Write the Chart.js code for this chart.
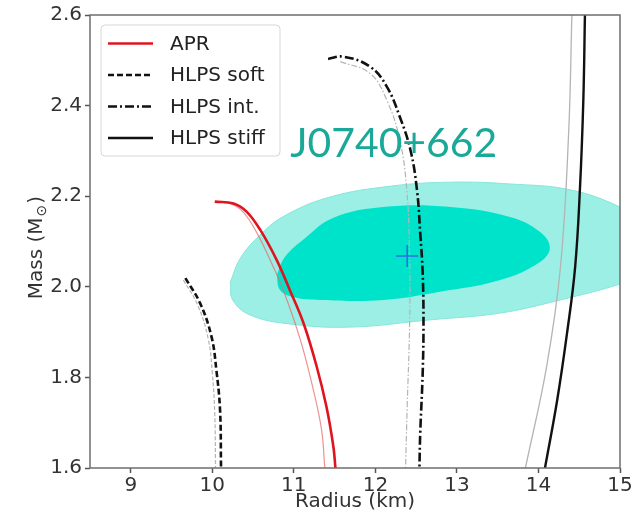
<!DOCTYPE html>
<html>
<head>
<meta charset="utf-8">
<script src="https://cdn.jsdelivr.net/npm/chart.js@4.4.0/dist/chart.umd.min.js"></script>
<style>html,body{margin:0;padding:0;background:#fff}</style>
</head>
<body>
<canvas id="c" width="638" height="518"></canvas>
<script>
// ── mass–radius curves (R in km, M in solar masses) ──────────
const APR_R        = [10.03, 10.26, 10.42, 10.59, 10.79, 10.95, 11.12, 11.28, 11.40, 11.485, 11.51];
const APR_M        = [2.188, 2.184, 2.166, 2.125, 2.059, 1.993, 1.919, 1.824, 1.735, 1.647, 1.600];
const APR_FAINT_R  = [10.06, 10.22, 10.38, 10.55, 10.72, 10.87, 11.08, 11.24, 11.34, 11.38];
const APR_FAINT_M  = [2.188, 2.184, 2.165, 2.118, 2.055, 1.993, 1.883, 1.772, 1.684, 1.600];

const SOFT_R       = [9.67, 9.85, 9.99, 10.05, 10.095, 10.107];
const SOFT_M       = [2.019, 1.964, 1.890, 1.816, 1.728, 1.600];
const SOFT_FAINT_R = [9.645, 9.82, 9.95, 10.00, 10.03, 10.04];
const SOFT_FAINT_M = [2.015, 1.960, 1.885, 1.810, 1.720, 1.600];

const INT_R        = [11.42, 11.61, 11.935, 12.14, 12.30, 12.43, 12.51, 12.55, 12.58, 12.59, 12.58, 12.55, 12.54];
const INT_M        = [2.503, 2.508, 2.486, 2.442, 2.375, 2.302, 2.214, 2.118, 2.030, 1.919, 1.809, 1.677, 1.600];
const INT_FAINT_R  = [11.57, 11.935, 12.14, 12.30, 12.385, 12.42, 12.42, 12.39, 12.37];
const INT_FAINT_M  = [2.497, 2.471, 2.412, 2.324, 2.214, 2.066, 1.919, 1.735, 1.600];

const STIFF_R       = [14.57, 14.55, 14.51, 14.45, 14.35, 14.23, 14.08];
const STIFF_M       = [2.600, 2.410, 2.221, 2.044, 1.897, 1.750, 1.600];
const STIFF_FAINT_R = [14.41, 14.37, 14.27, 14.10, 13.84];
const STIFF_FAINT_M = [2.600, 2.339, 2.044, 1.824, 1.600];

// ── J0740+6620 credible regions (closed contours) ─────────────
const OUTER_R = [10.22, 10.34, 10.56, 10.87, 11.44, 12.18, 12.92, 13.65, 14.39, 15.00, 15.45, 15.45, 15.00, 14.27, 13.53, 12.67, 11.69, 10.95, 10.46, 10.25, 10.22];
const OUTER_M = [2.010, 2.062, 2.110, 2.155, 2.198, 2.222, 2.231, 2.227, 2.214, 2.176, 2.125, 2.037, 2.006, 1.971, 1.942, 1.927, 1.911, 1.918, 1.938, 1.971, 2.010];
const INNER_R = [10.79, 10.89, 11.14, 11.48, 12.10, 12.92, 13.65, 14.02, 14.14, 14.02, 13.53, 12.79, 12.10, 11.32, 11.00, 10.83, 10.79];
const INNER_M = [2.026, 2.066, 2.108, 2.152, 2.176, 2.176, 2.154, 2.121, 2.086, 2.055, 2.015, 1.989, 1.971, 1.971, 1.977, 1.993, 2.026];

const CROSS_R = [12.39];
const CROSS_M = [2.068];

const X_TICKS = [9, 10, 11, 12, 13, 14, 15];
const Y_TICKS = [1.6, 1.8, 2.0, 2.2, 2.4, 2.6];

const LABEL_TEXT = 'J0740+662';
const LABEL_R = 12.225, LABEL_M = 2.287;   // text centre / baseline

const LEGEND = [
    { text: 'APR',        color: '#e0141e', dash: [] },
    { text: 'HLPS soft',  color: '#111',    dash: [6, 3] },
    { text: 'HLPS int.',  color: '#111',    dash: [9, 3, 2, 3] },
    { text: 'HLPS stiff', color: '#111',    dash: [] }
];

const pts = (R, M) => R.map((r, i) => ({ x: r, y: M[i] }));
const FONT = "'DejaVu Sans', sans-serif";

function curve(R, M, color, width, dash, order) {
    return {
        data: pts(R, M), showLine: true, borderColor: color, borderWidth: width,
        borderDash: dash, pointRadius: 0, tension: 0.4, fill: false, order
    };
}

const datasets = [
    { data: pts(CROSS_R, CROSS_M), pointStyle: 'cross', pointRadius: 11, borderColor: '#2a6fe0',
      borderWidth: 1.6, showLine: false, order: 0 },
    curve(APR_R, APR_M, '#e0141e', 2.6, [], 1),
    curve(SOFT_R, SOFT_M, '#111', 2.6, [6, 3], 1),
    curve(INT_R, INT_M, '#111', 2.6, [9, 3, 2, 3], 1),
    curve(STIFF_R, STIFF_M, '#111', 2.4, [], 1),
    curve(APR_FAINT_R, APR_FAINT_M, 'rgba(232,110,110,0.75)', 1.2, [], 2),
    curve(SOFT_FAINT_R, SOFT_FAINT_M, '#b4b4b4', 1.2, [4, 2], 2),
    curve(INT_FAINT_R, INT_FAINT_M, '#b4b4b4', 1.2, [6, 2, 1.5, 2], 2),
    curve(STIFF_FAINT_R, STIFF_FAINT_M, '#b4b4b4', 1.3, [], 2),
    { data: pts(INNER_R, INNER_M), showLine: true, fill: 'shape', backgroundColor: '#00e3cb',
      borderColor: '#00e3cb', borderWidth: 0, pointRadius: 0, tension: 0.4, order: 3 },
    { data: pts(OUTER_R, OUTER_M), showLine: true, fill: 'shape', backgroundColor: '#9cefe5',
      borderColor: '#86e6da', borderWidth: 1, pointRadius: 0, tension: 0.4, order: 4 }
];

const decor = {
    id: 'decor',
    beforeDatasetsDraw(chart) {
        const { ctx, chartArea: a } = chart;
        ctx.save();
        ctx.beginPath();
        ctx.rect(a.left, a.top, a.right - a.left, a.bottom - a.top);
        ctx.clip();
    },
    afterDatasetsDraw(chart) {
        chart.ctx.restore();
    },
    afterDraw(chart) {
        const { ctx, chartArea: a, scales: { x, y } } = chart;
        ctx.save();

        // frame
        ctx.strokeStyle = '#6e6e6e';
        ctx.lineWidth = 1.5;
        ctx.strokeRect(a.left, a.top, a.right - a.left, a.bottom - a.top);

        // J0740 label
        let size = 44;
        ctx.font = `${size}px Lato, 'Open Sans', sans-serif`;
        size = size * 207 / ctx.measureText(LABEL_TEXT).width;
        ctx.font = `${size.toFixed(1)}px Lato, 'Open Sans', sans-serif`;
        ctx.fillStyle = '#1aa898';
        ctx.textAlign = 'center';
        ctx.textBaseline = 'alphabetic';
        ctx.fillText(LABEL_TEXT, x.getPixelForValue(LABEL_R), y.getPixelForValue(LABEL_M));

        // legend
        const lx = 101, ly = 25, lw = 179, lh = 131;
        ctx.beginPath();
        ctx.roundRect(lx, ly, lw, lh, 4);
        ctx.fillStyle = 'rgba(255,255,255,0.9)';
        ctx.fill();
        ctx.strokeStyle = '#d6d6d6';
        ctx.lineWidth = 1;
        ctx.stroke();
        ctx.font = `20px ${FONT}`;
        ctx.textAlign = 'left';
        ctx.textBaseline = 'middle';
        LEGEND.forEach((item, i) => {
            const yy = 43.5 + i * 31.5;
            ctx.beginPath();
            ctx.setLineDash(item.dash);
            ctx.strokeStyle = item.color;
            ctx.lineWidth = 2.4;
            ctx.moveTo(108, yy);
            ctx.lineTo(153, yy);
            ctx.stroke();
            ctx.setLineDash([]);
            ctx.fillStyle = '#222';
            ctx.fillText(item.text, 170, yy + 1);
        });

        // axis titles
        ctx.fillStyle = '#333';
        ctx.textAlign = 'center';
        ctx.textBaseline = 'middle';
        ctx.font = `20px ${FONT}`;
        ctx.fillText('Radius (km)', (a.left + a.right) / 2, 502);

        ctx.translate(37, (a.top + a.bottom) / 2 + 6);
        ctx.rotate(-Math.PI / 2);
        const p1 = 'Mass (M', p2 = '\u2299', p3 = ')';
        ctx.font = `20px ${FONT}`;
        const w1 = ctx.measureText(p1).width, w3 = ctx.measureText(p3).width;
        ctx.font = `14px ${FONT}`;
        const w2 = ctx.measureText(p2).width + 2;
        let sx = -(w1 + w2 + w3) / 2;
        ctx.textAlign = 'left';
        ctx.font = `20px ${FONT}`;
        ctx.fillText(p1, sx, 0);
        ctx.font = `14px ${FONT}`;
        ctx.fillText(p2, sx + w1 + 1, 5);
        ctx.font = `20px ${FONT}`;
        ctx.fillText(p3, sx + w1 + w2, 0);
        ctx.restore();
    }
};

const axisCommon = {
    type: 'linear',
    border: { display: false },
    grid: { drawOnChartArea: false, drawTicks: true, tickLength: 5, tickColor: '#555', tickWidth: 1.5 },
};

new Chart(document.getElementById('c'), {
    type: 'scatter',
    data: { datasets },
    options: {
        responsive: false,
        animation: false,
        layout: { padding: { top: 15, right: 18, left: 0, bottom: 0 } },
        plugins: { legend: { display: false }, tooltip: { enabled: false } },
        scales: {
            x: {
                ...axisCommon, min: 8.5, max: 15,
                afterBuildTicks: s => { s.ticks = X_TICKS.map(v => ({ value: v })); },
                afterFit: s => { s.height = 50; },
                ticks: { font: { family: FONT, size: 20 }, color: '#333', padding: 1, maxRotation: 0, autoSkip: false }
            },
            y: {
                ...axisCommon, min: 1.6, max: 2.6,
                afterBuildTicks: s => { s.ticks = Y_TICKS.map(v => ({ value: v })); },
                afterFit: s => { s.width = 90; },
                ticks: { font: { family: FONT, size: 20 }, color: '#333', padding: 3, autoSkip: false,
                         callback: v => Number(v).toFixed(1) }
            }
        }
    },
    plugins: [decor]
});
</script>
</body>
</html>
